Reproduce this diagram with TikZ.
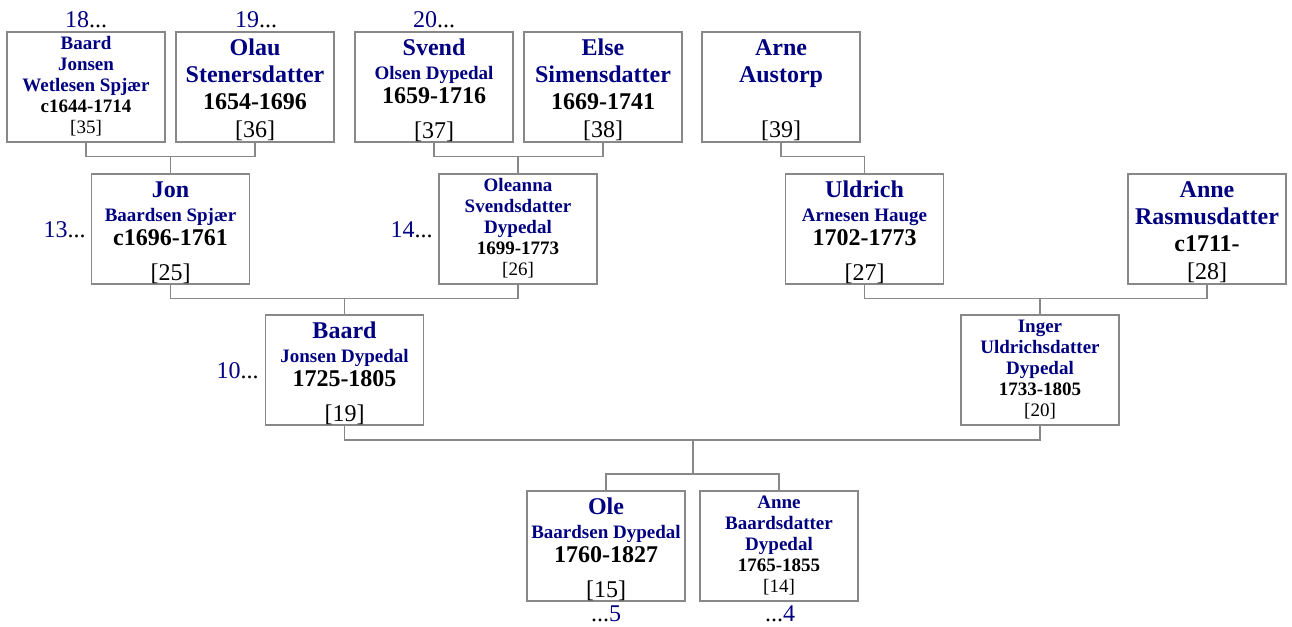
\documentclass[tikz,border=0pt]{standalone}
\usepackage{fontspec}
\setmainfont{Liberation Serif}
\definecolor{navy}{RGB}{0,0,128}
\definecolor{boxgray}{RGB}{136,136,136}
\tikzset{
  pbox/.style={draw=boxgray, line width=1pt, minimum width=118.5pt, minimum height=82.5pt, inner sep=0pt},
  ln/.style={anchor=base, inner sep=0pt},
  big/.style={font=\fontsize{18}{20}\selectfont\bfseries},
  sml/.style={font=\fontsize{14.25}{16}\selectfont\bfseries},
  bigid/.style={font=\fontsize{18}{20}\selectfont},
  smlid/.style={font=\fontsize{14.25}{16}\selectfont},
  nmc/.style={text=navy},
  conn/.style={draw=boxgray, line width=1pt},
  gen/.style={inner sep=0pt, font=\fontsize{18}{20}\selectfont},
}
% type A: two big name lines
\newcommand\personA[7]{%
  \node[pbox] (#1) at (#2,#3+55) {};
  \node[ln,big,nmc] (#1-a) at (#2,#3+23.5) {#4};
  \node[ln,big,nmc] (#1-b) at (#2,#3+50) {#5};
  \node[ln,big] (#1-c) at (#2,#3+77.5) {#6};
  \node[ln,bigid] (#1-d) at (#2,#3+105) {#7};
}
% type B: big first name, small surname
\newcommand\personB[7]{%
  \node[pbox] (#1) at (#2,#3+55) {};
  \node[ln,big,nmc] (#1-a) at (#2,#3+23.5) {#4};
  \node[ln,sml,nmc] (#1-b) at (#2,#3+47) {#5};
  \node[ln,big] (#1-c) at (#2,#3+71.5) {#6};
  \node[ln,bigid] (#1-d) at (#2,#3+106) {#7};
}
% type C: all small, three name lines
\newcommand\personC[8]{%
  \node[pbox] (#1) at (#2,#3+55) {};
  \node[ln,sml,nmc] (#1-a) at (#2,#3+17) {#4};
  \node[ln,sml,nmc] (#1-b) at (#2,#3+38) {#5};
  \node[ln,sml,nmc] (#1-c) at (#2,#3+59) {#6};
  \node[ln,sml] (#1-d) at (#2,#3+80.5) {#7};
  \node[ln,smlid] (#1-e) at (#2,#3+101) {#8};
}
\begin{document}
\begin{tikzpicture}[x=0.75pt,y=-0.75pt]
\useasboundingbox (0,0) rectangle (1292,626);
% generation 1
\personC{p35}{86}{32}{Baard}{Jonsen}{Wetlesen Spjær}{c1644-1714}{[35]}
\personA{p36}{255}{32}{Olau}{Stenersdatter}{1654-1696}{[36]}
\personB{p37}{434}{32}{Svend}{Olsen Dypedal}{1659-1716}{[37]}
\personA{p38}{603}{32}{Else}{Simensdatter}{1669-1741}{[38]}
\personA{p39}{781}{32}{Arne}{Austorp}{}{[39]}
% generation 2
\personB{p25}{170.5}{174}{Jon}{Baardsen Spjær}{c1696-1761}{[25]}
\personC{p26}{518}{174}{Oleanna}{Svendsdatter}{Dypedal}{1699-1773}{[26]}
\personB{p27}{864.5}{174}{Uldrich}{Arnesen Hauge}{1702-1773}{[27]}
\personA{p28}{1207}{174}{Anne}{Rasmusdatter}{c1711-}{[28]}
% generation 3
\personB{p19}{344.5}{315}{Baard}{Jonsen Dypedal}{1725-1805}{[19]}
\personC{p20}{1040}{315}{Inger}{Uldrichsdatter}{Dypedal}{1733-1805}{[20]}
% generation 4
\personB{p15}{606}{491}{Ole}{Baardsen Dypedal}{1760-1827}{[15]}
\personC{p14}{779}{491}{Anne}{Baardsdatter}{Dypedal}{1765-1855}{[14]}
% generation numbers
\node[gen, anchor=base] (g18) at (86,27) {\textcolor{navy}{18}...};
\node[gen, anchor=base] (g19) at (256,27) {\textcolor{navy}{19}...};
\node[gen, anchor=base] (g20) at (434,27) {\textcolor{navy}{20}...};
\node[gen, anchor=base east] (g13) at (86,237) {\textcolor{navy}{13}...};
\node[gen, anchor=base east] (g14) at (433,237) {\textcolor{navy}{14}...};
\node[gen, anchor=base east] (g10) at (259,378) {\textcolor{navy}{10}...};
\node[gen, anchor=base] (g5) at (606,621) {...\textcolor{navy}{5}};
\node[gen, anchor=base] (g4) at (780,621) {...\textcolor{navy}{4}};
% connectors
\path (p25.north) ++(0,-17) coordinate (j1);
\draw[conn] (p35.south) |- (j1) -| (p36.south);
\draw[conn] (j1) -- (p25.north);
\path (p26.north) ++(0,-17) coordinate (j2);
\draw[conn] (p37.south) |- (j2) -| (p38.south);
\draw[conn] (j2) -- (p26.north);
\path (p27.north) ++(0,-17) coordinate (j3);
\draw[conn] (p39.south) |- (j3) -- (p27.north);
\path (p19.north) ++(0,-16) coordinate (j4);
\draw[conn] (p25.south) |- (j4) -| (p26.south);
\draw[conn] (j4) -- (p19.north);
\path (p20.north) ++(0,-16) coordinate (j5);
\draw[conn] (p27.south) |- (j5) -| (p28.south);
\draw[conn] (j5) -- (p20.north);
\coordinate (j6) at (693,440);
\coordinate (j7) at (693,474);
\draw[conn] (p19.south) |- (j6) -| (p20.south);
\draw[conn] (j6) -- (j7);
\draw[conn] (p15.north) |- (j7) -| (p14.north);
\end{tikzpicture}
\end{document}
